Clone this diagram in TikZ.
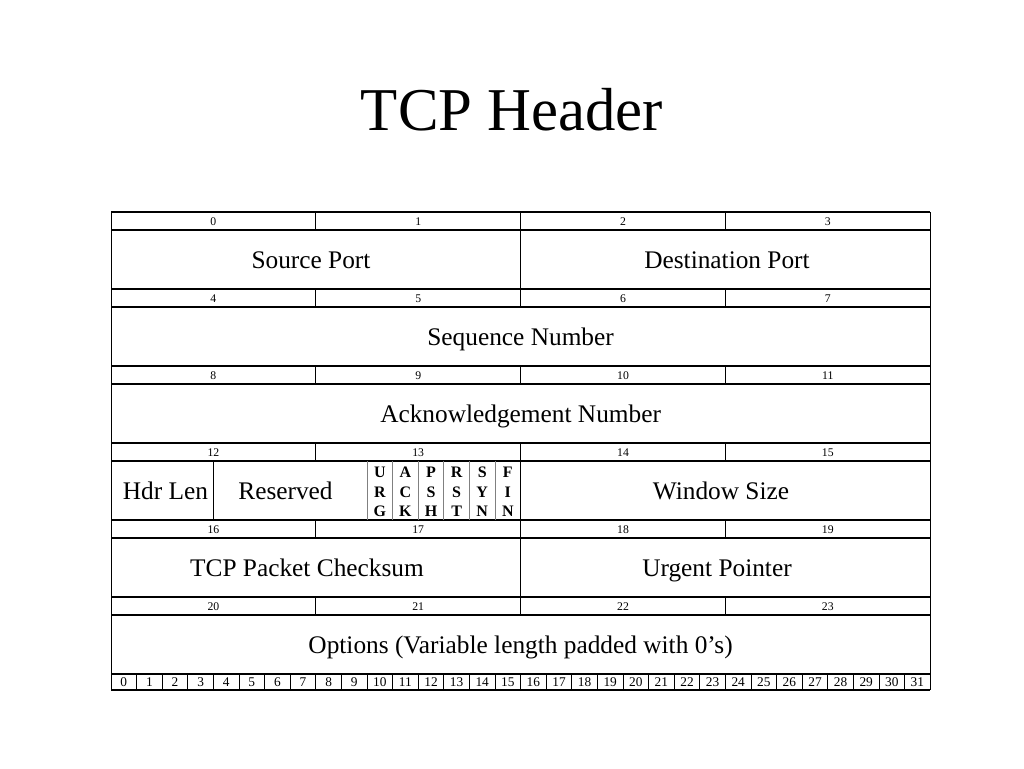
\documentclass[tikz,border=0pt]{standalone}
\usepackage{fontspec}
\setmainfont{Liberation Serif}
\tikzset{
  hline/.style={line width=1.2pt},
  vline/.style={line width=0.5pt},
  flagline/.style={line width=0.6pt, gray},
  bytenum/.style={font=\fontsize{8.8}{10}\selectfont, inner sep=0pt, anchor=base},
  bitnum/.style={font=\fontsize{10}{11}\selectfont, inner sep=0pt, anchor=base},
  field/.style={font=\fontsize{19}{22}\selectfont, inner sep=0pt, anchor=base},
  flag/.style={font=\fontsize{12}{14.6}\selectfont\bfseries, align=center, inner sep=0pt}
}
\begin{document}
\begin{tikzpicture}[x=0.75pt, y=-0.75pt, line join=round]
  \useasboundingbox (0,0) rectangle (1024,768);
  \def\xl{111}
  \def\bw{25.6}
  \def\ytop{212}
  \def\per{77}
  \def\bh{18}
  \def\ybot{690}
  \pgfmathsetmacro{\xr}{\xl+32*\bw}
  % title
  \node[font=\fontsize{45.6}{50}\selectfont] (title) at (512,110) {TCP Header};
  % outer frame and horizontal rules
  \draw[vline] (\xl,\ytop) -- (\xl,\ybot);
  \draw[vline] (\xr,\ytop) -- (\xr,\ybot);
  \foreach \g in {0,...,5} {
    \pgfmathsetmacro{\ya}{\ytop+\g*\per}
    \pgfmathsetmacro{\yb}{\ya+\bh}
    \draw[hline] (\xl,\ya) -- (\xr,\ya);
    \draw[hline] (\xl,\yb) -- (\xr,\yb);
    % byte numbers
    \foreach \k in {0,...,3} {
      \pgfmathtruncatemacro{\n}{4*\g+\k}
      \pgfmathsetmacro{\xc}{\xl+(8*\k+4)*\bw}
      \node[bytenum] (byte\n) at (\xc,\ya+13.5) {\n};
    }
    \foreach \k in {8,16,24}
      \draw[vline] (\xl+\k*\bw,\ya) -- (\xl+\k*\bw,\yb);
  }
  \draw[hline] (\xl,\ytop+6*\per) -- (\xr,\ytop+6*\per);
  \draw[hline] (\xl,\ybot) -- (\xr,\ybot);
  % bit numbers
  \foreach \i in {0,...,31} {
    \node[bitnum] (bit\i) at (\xl+\i*\bw+\bw/2,\ytop+6*\per+12.5) {\i};
    \ifnum\i>0 \draw[vline] (\xl+\i*\bw,\ytop+6*\per) -- (\xl+\i*\bw,\ybot); \fi
  }
  % field dividers
  \draw[vline] (\xl+16*\bw,\ytop+\bh) -- (\xl+16*\bw,\ytop+\per);
  \draw[vline] (\xl+4*\bw,\ytop+3*\per+\bh) -- (\xl+4*\bw,\ytop+4*\per);
  \foreach \k in {10,...,15}
    \draw[flagline] (\xl+\k*\bw,\ytop+3*\per+\bh) -- (\xl+\k*\bw,\ytop+4*\per);
  \draw[vline] (\xl+16*\bw,\ytop+3*\per+\bh) -- (\xl+16*\bw,\ytop+4*\per);
  \draw[vline] (\xl+16*\bw,\ytop+4*\per+\bh) -- (\xl+16*\bw,\ytop+5*\per);
  % fields
  \node[field] (srcport) at (311,268) {Source Port};
  \node[field] (dstport) at (727,268) {Destination Port};
  \node[field] (seqnum) at (\xl+16*\bw,345) {Sequence Number};
  \node[field] (acknum) at (\xl+16*\bw,422) {Acknowledgement Number};
  \node[field] (hdrlen) at (165.5,499) {Hdr Len};
  \node[field] (reserved) at (285.5,499) {Reserved};
  \node[field] (window) at (721,499) {Window Size};
  \node[field] (checksum) at (307,576) {TCP Packet Checksum};
  \node[field] (urgent) at (717,576) {Urgent Pointer};
  \node[field] (options) at (\xl+16*\bw,653) {Options (Variable length padded with 0’s)};
  % flags
  \foreach \f [count=\j from 10] in {U\\R\\G, A\\C\\K, P\\S\\H, R\\S\\T, S\\Y\\N, F\\I\\N}
    \node[flag] (flag\j) at (\xl+\j*\bw+\bw/2,492) {\f};
\end{tikzpicture}
\end{document}
